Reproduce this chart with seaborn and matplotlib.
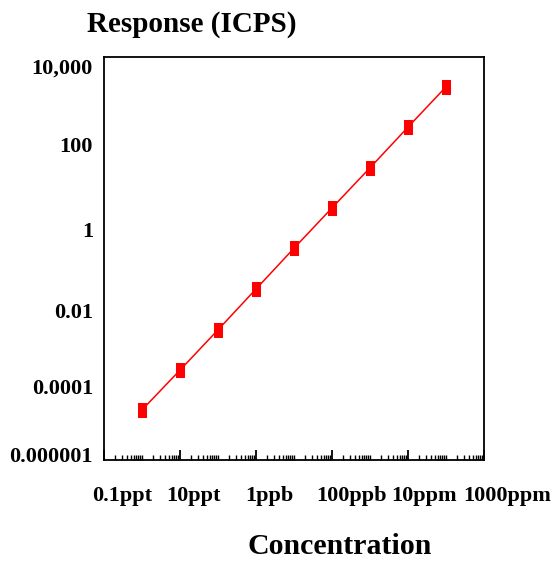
import numpy as np
import pandas as pd
import matplotlib
matplotlib.use("Agg")
import matplotlib.pyplot as plt
import matplotlib.transforms as mtransforms
from matplotlib.ticker import LogLocator, NullFormatter
import seaborn as sns

# concentration in ppt, response in ICPS
conc_ppt = [1, 10, 100, 1e3, 1e4, 1e5, 1e6, 1e7, 1e8]
response = [1.75e-5, 1.7e-4, 1.7e-3, 1.75e-2, 0.18, 1.8, 17.8, 182, 1820]

x_tick_vals = [0.1, 10, 1e3, 1e5, 1e7, 1e9]
x_tick_labels = ["0.1ppt", "10ppt", "1ppb", "100ppb", "10ppm", "1000ppm"]
y_tick_vals = [1e4, 1e2, 1, 1e-2, 1e-4, 1e-6]
y_tick_labels = ["10,000", "100", "1", "0.01", "0.0001", "0.000001"]

# small per-label nudges (pixels) to follow the original placement
x_label_shift = [18, 14, 13, 20, 16, 23]
y_label_shift = [9, 7, 11, 12, 7, -5]

df = pd.DataFrame({"conc": conc_ppt, "response": response})

sns.set_style("white")
plt.rcParams["font.family"] = ["Liberation Serif", "DejaVu Serif"]
plt.rcParams["font.weight"] = "bold"
plt.rcParams["text.color"] = "black"
plt.rcParams["xtick.color"] = "black"
plt.rcParams["ytick.color"] = "black"

fig = plt.figure(figsize=(5.55, 5.61), dpi=100)
ax = fig.add_axes([104 / 555, 1 - 460 / 561, 380 / 555, 403 / 561])

rect = [(-0.32, -0.5), (0.32, -0.5), (0.32, 0.5), (-0.32, 0.5), (-0.32, -0.5)]
sns.lineplot(data=df, x="conc", y="response", ax=ax, color="#ff0000",
             linewidth=1.1, marker=rect, markersize=10,
             markeredgecolor="#ff0000", markerfacecolor="#ff0000")

ax.set_xscale("log")
ax.set_yscale("log")
ax.set_xlim(0.1, 1e9)
ax.set_ylim(1e-6, 1e4)

ax.set_xticks(x_tick_vals)
ax.set_xticklabels(x_tick_labels, fontsize=16, fontweight="bold")
ax.xaxis.set_minor_locator(LogLocator(base=10, subs=np.arange(1, 10), numticks=100))
ax.xaxis.set_minor_formatter(NullFormatter())
ax.tick_params(axis="x", which="both", bottom=True, top=False)
ax.tick_params(axis="x", which="major", direction="in", length=7, width=1.3,
               pad=19, color="black")
ax.tick_params(axis="x", which="minor", direction="in", length=3.5, width=1.0,
               color="black")

ax.set_yticks(y_tick_vals)
ax.set_yticklabels(y_tick_labels, fontsize=16, fontweight="bold")
ax.yaxis.set_minor_locator(plt.NullLocator())
ax.tick_params(axis="y", which="major", left=True, length=0, pad=8)

for lab, dx in zip(ax.get_xticklabels(), x_label_shift):
    lab.set_transform(lab.get_transform() +
                      mtransforms.ScaledTranslation(dx / 100, 0, fig.dpi_scale_trans))
for lab, dy in zip(ax.get_yticklabels(), y_label_shift):
    lab.set_transform(lab.get_transform() +
                      mtransforms.ScaledTranslation(0, -dy / 100, fig.dpi_scale_trans))

for sp in ax.spines.values():
    sp.set_color("black")
    sp.set_linewidth(1.3)

ax.set_xlabel("")
ax.set_ylabel("")

fig.text(192 / 555, 1 - 25 / 561, "Response (ICPS)", fontsize=21,
         fontweight="bold", ha="center", va="center")
fig.text(340 / 555, 1 - 547 / 561, "Concentration", fontsize=21.5,
         fontweight="bold", ha="center", va="center")

fig.savefig("out.png", dpi=100)
